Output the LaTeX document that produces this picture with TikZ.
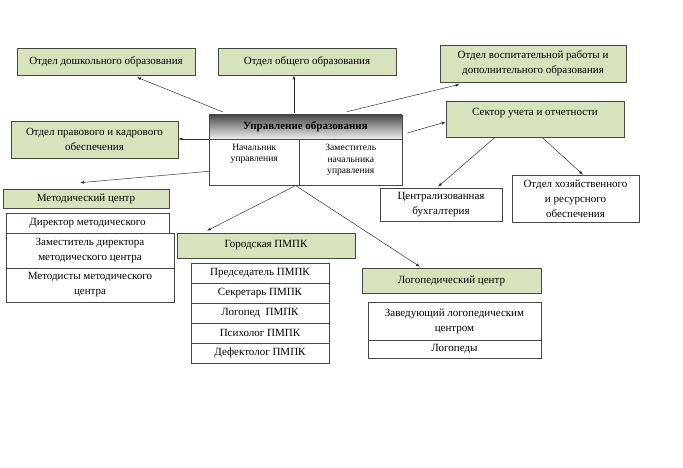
\documentclass[tikz,border=0pt]{standalone}
\usepackage{fontspec}
\setmainfont{Liberation Serif}
\usepackage{tikz}
\usetikzlibrary{arrows.meta}

\definecolor{boxgreen}{RGB}{215,227,188}
\definecolor{boxline}{RGB}{70,70,70}

\tikzset{
  greenbox/.style={draw=boxline, fill=boxgreen, line width=0.6pt, align=center, inner sep=1pt, font=\fontsize{11}{15}\selectfont},
  whitebox/.style={draw=boxline, fill=white, line width=0.6pt, align=center, inner sep=1pt, font=\fontsize{11}{15}\selectfont},
  smalltext/.style={align=center, inner sep=0pt, font=\fontsize{9.6}{11.5}\selectfont},
  arr/.style={draw=black!80, line width=0.5pt, -{Latex[length=4pt, width=3pt]}}
}

\begin{document}
\begin{tikzpicture}[x=1pt, y=-1pt]
    \useasboundingbox[fill=white] (0,0) rectangle (683,468);

    % upper row
    \node[greenbox, minimum width=178, minimum height=27] (doshk) at (106,61.5) {Отдел дошкольного образования};
    \node[greenbox, minimum width=178, minimum height=27] (obsh) at (307,61.5) {Отдел общего образования};
    \node[greenbox, minimum width=186, minimum height=37] (vosp) at (533,63.5) {Отдел воспитательной работы и\\дополнительного образования};
    \node[greenbox, minimum width=178, minimum height=36] (sektor) at (535,119) {};
    \node[smalltext, font=\fontsize{11}{15}\selectfont, anchor=north] (sektortxt) at ([yshift=-7pt]sektor.north) {Сектор учета и отчетности};
    \node[greenbox, minimum width=167, minimum height=37] (prav) at (94.5,139.5) {Отдел правового и кадрового\\обеспечения};

    % management
    \node[draw=boxline, line width=0.6pt, top color=black!70, bottom color=black!6, minimum width=193, minimum height=24, inner sep=0pt, font=\fontsize{11}{13}\selectfont\bfseries] (upr) at (305.5,127) {Управление образования};
    \node[whitebox, minimum width=90, minimum height=46, anchor=north west] (nach) at (209,139) {};
    \node[whitebox, minimum width=103, minimum height=46, anchor=north west] (zam) at (299,139) {};
    \node[smalltext, anchor=north] (nachtxt) at ([yshift=-5pt]nach.north) {Начальник\\управления};
    \node[smalltext, anchor=north] (zamtxt) at ([yshift=-5pt]zam.north) {Заместитель\\начальника\\управления};

    % accounting
    \node[whitebox, minimum width=122, minimum height=33] (buh) at (441,204.5) {Централизованная\\бухгалтерия};
    \node[whitebox, minimum width=127, minimum height=47] (hoz) at (575.5,198.5) {Отдел хозяйственного\\и ресурсного\\обеспечения};

    % methodical centre
    \node[greenbox, minimum width=166, minimum height=19] (metod) at (86,198.5) {Методический центр};
    \node[whitebox, minimum width=163, minimum height=20] (dir) at (87.5,223) {Директор методического};
    \node[whitebox, minimum width=168, minimum height=35] (zamdir) at (90,250.5) {Заместитель директора\\методического центра};
    \node[whitebox, minimum width=168, minimum height=34] (metodisty) at (90,285) {Методисты методического\\центра};

    % PMPK
    \node[greenbox, minimum width=178, minimum height=25] (gor) at (266,245.5) {Городская ПМПК};
    \foreach \t [count=\i] in {Председатель ПМПК, Секретарь ПМПК, Логопед\ \ ПМПК, Психолог ПМПК, Дефектолог ПМПК}
      \node[whitebox, minimum width=138, minimum height=20] (p\i) at (260,253+20*\i) {\t};

    % speech therapy centre
    \node[greenbox, minimum width=179, minimum height=25] (logo) at (451.5,280.5) {Логопедический центр};
    \node[whitebox, minimum width=173, minimum height=38] (zav) at (454.5,321) {Заведующий логопедическим\\центром};
    \node[whitebox, minimum width=173, minimum height=18] (logopedy) at (454.5,349) {Логопеды};

    % connectors
    \coordinate (s1) at (223,112);
    \draw[arr] (s1) -- ([xshift=31pt,yshift=-2pt]doshk.south);
    \draw[arr] ([xshift=-11.5pt,yshift=2pt]upr.north) -- ([xshift=-13pt]obsh.south);
    \draw[arr] ([xshift=41.5pt,yshift=3pt]upr.north) -- ([xshift=20pt,yshift=-2pt]vosp.south west);
    \draw[arr] ([xshift=5pt,yshift=-6pt]upr.east) -- ([yshift=-3pt]sektor.west);
    \draw[arr] (nach.north west) -- (prav.east |- nach.north west);
    \draw[arr] ([yshift=-9pt]nach.west) -- ([xshift=-6pt,yshift=6pt]metod.north);
    \draw[arr] ([xshift=-4pt]nach.south east) -- ([xshift=-59pt,yshift=2pt]gor.north);
    \draw[arr] ([xshift=-4pt]nach.south east) -- ([xshift=-31.5pt,yshift=1pt]logo.north);
    \draw[arr] ([xshift=-40pt]sektor.south) -- ([xshift=-3pt,yshift=1pt]buh.north);
    \draw[arr] ([xshift=7pt]sektor.south) -- ([xshift=7.5pt]hoz.north);
\end{tikzpicture}
\end{document}
